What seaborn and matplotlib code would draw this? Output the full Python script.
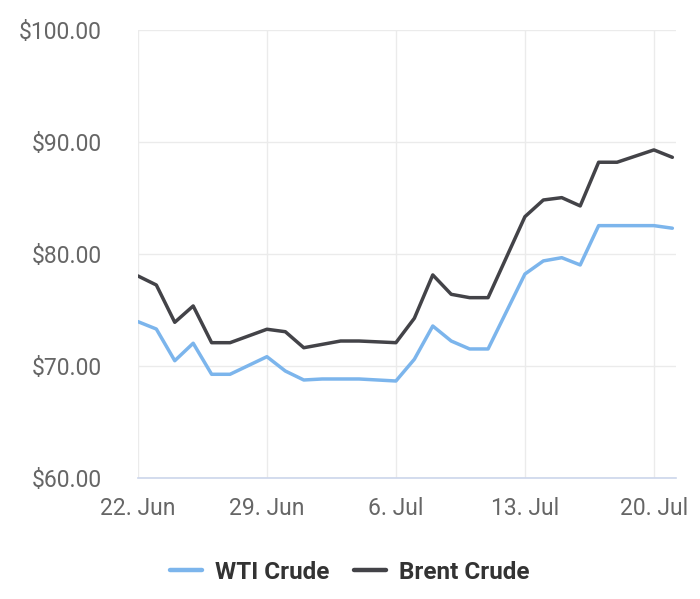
import pandas as pd
import matplotlib.pyplot as plt
import matplotlib.dates as mdates
from matplotlib.ticker import FuncFormatter, MultipleLocator
import seaborn as sns

# values
dates = ["2020-06-22", "2020-06-23", "2020-06-24", "2020-06-25", "2020-06-26",
         "2020-06-27", "2020-06-29", "2020-06-30", "2020-07-01", "2020-07-02",
         "2020-07-03", "2020-07-04", "2020-07-06", "2020-07-07", "2020-07-08",
         "2020-07-09", "2020-07-10", "2020-07-11", "2020-07-13", "2020-07-14",
         "2020-07-15", "2020-07-16", "2020-07-17", "2020-07-18", "2020-07-20",
         "2020-07-21"]
wti = [73.96, 73.30, 70.47, 72.03, 69.26, 69.26, 70.83, 69.55, 68.75, 68.84,
       68.84, 68.84, 68.66, 70.60, 73.57, 72.23, 71.52, 71.52, 78.21, 79.38,
       79.67, 79.02, 82.53, 82.53, 82.53, 82.30]
brent = [78.04, 77.23, 73.90, 75.36, 72.08, 72.08, 73.28, 73.06, 71.63, 71.93,
         72.23, 72.23, 72.08, 74.26, 78.13, 76.40, 76.10, 76.10, 83.33, 84.82,
         85.03, 84.29, 88.19, 88.19, 89.29, 88.63]
series = ["WTI Crude", "Brent Crude"]
colors = ["#7cb5ec", "#434348"]

df = pd.DataFrame({
    "date": pd.to_datetime(dates * 2),
    "price": wti + brent,
    "series": [series[0]] * len(wti) + [series[1]] * len(brent),
})

sns.set_style("white")
plt.rcParams["font.family"] = ["Roboto", "DejaVu Sans"]

fig = plt.figure(figsize=(7, 5.99), dpi=100)
ax = fig.add_axes([0.197, 0.202, 0.769, 0.748])

sns.lineplot(data=df, x="date", y="price", hue="series", hue_order=series,
             palette=colors, linewidth=2.5, ax=ax, legend=False)

ax.set_ylim(60, 100)
ax.set_xlim(pd.Timestamp("2020-06-22"), pd.Timestamp("2020-07-21 05:00"))
ax.yaxis.set_major_locator(MultipleLocator(10))
ax.yaxis.set_major_formatter(FuncFormatter(lambda v, p: f"${v:.2f}"))
ax.xaxis.set_major_locator(mdates.WeekdayLocator(byweekday=mdates.MO))
ax.xaxis.set_major_formatter(mdates.DateFormatter("%-d. %b"))

ax.set_xlabel("")
ax.set_ylabel("")
ax.grid(True, color="#ebebeb", linewidth=1)
for s in ["top", "right", "left"]:
    ax.spines[s].set_visible(False)
ax.spines["bottom"].set_color("#ccd6eb")
ax.spines["bottom"].set_linewidth(1.2)

ax.tick_params(axis="y", length=0, pad=26, labelsize=16.5, labelcolor="#666666")
ax.tick_params(axis="x", length=8, width=1, color="#ccd6eb", pad=6,
               labelsize=16.5, labelcolor="#666666")

handles = [plt.Line2D([], [], color=c, linewidth=3.2) for c in colors]
leg = fig.legend(handles, series, loc="center", bbox_to_anchor=(0.5, 0.045),
                 ncol=2, frameon=False, handlelength=1.3, handletextpad=0.55,
                 columnspacing=1.0, prop={"size": 17.5, "weight": "bold"})
for t in leg.get_texts():
    t.set_color("#333333")

fig.savefig("out.png", dpi=100)
